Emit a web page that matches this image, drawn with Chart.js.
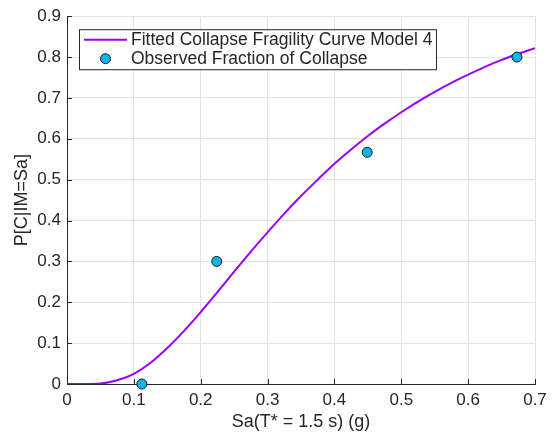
<!DOCTYPE html>
<html>
<head>
<meta charset="utf-8">
<script src="https://cdn.jsdelivr.net/npm/chart.js@4/dist/chart.umd.min.js"></script>
<style>
  html, body { margin: 0; padding: 0; background: #ffffff; }
  #wrap { width: 556px; height: 439px; position: relative; }
</style>
</head>
<body>
<div id="wrap"><canvas id="c" width="556" height="439"></canvas></div>
<script>
// Fitted collapse fragility curve, sampled along the intensity axis
const curveSa = [0, 0.025, 0.05, 0.075, 0.1, 0.125, 0.15, 0.175, 0.2, 0.225, 0.25, 0.275,
  0.3, 0.325, 0.35, 0.375, 0.4, 0.425, 0.45, 0.475, 0.5, 0.525, 0.55, 0.575, 0.6, 0.625,
  0.65, 0.675, 0.7];
const curveP = [0, 0, 0.001, 0.009, 0.025, 0.052, 0.088, 0.130, 0.176, 0.225, 0.275, 0.324,
  0.371, 0.417, 0.460, 0.500, 0.539, 0.574, 0.607, 0.637, 0.665, 0.691, 0.715, 0.737, 0.757,
  0.776, 0.793, 0.808, 0.822];

// Observed fraction of collapse at each analysed intensity level
const obsSa = [0.112, 0.224, 0.449, 0.673];
const obsP = [0, 0.3, 0.567, 0.8];

// Axis ticks
const xTicks = [0, 0.1, 0.2, 0.3, 0.4, 0.5, 0.6, 0.7];
const yTicks = [0, 0.1, 0.2, 0.3, 0.4, 0.5, 0.6, 0.7, 0.8, 0.9];

const seriesNames = ['Fitted Collapse Fragility Curve Model 4', 'Observed Fraction of Collapse'];
const xTitle = 'Sa(T* = 1.5 s) (g)';
const yTitle = 'P[C|IM=Sa]';

const TEXT = '#262626';
const LINE = '#9a00ff';
const MARK = '#10b2ea';
const FONT = 'Arial, "Liberation Sans", Helvetica, sans-serif';

const curvePts = curveSa.map((x, i) => ({ x: x, y: curveP[i] }));
const obsPts = obsSa.map((x, i) => ({ x: x, y: obsP[i] }));

// Inward tick marks on the left and bottom axes
const innerTicks = {
  id: 'innerTicks',
  afterDatasetsDraw(chart) {
    const { ctx, chartArea: a, scales: { x, y } } = chart;
    ctx.save();
    ctx.strokeStyle = TEXT;
    ctx.lineWidth = 1;
    ctx.beginPath();
    xTicks.forEach(v => {
      const px = Math.round(x.getPixelForValue(v)) + 0.5;
      ctx.moveTo(px, a.bottom);
      ctx.lineTo(px, a.bottom - 5);
    });
    yTicks.forEach(v => {
      const py = Math.round(y.getPixelForValue(v)) + 0.5;
      ctx.moveTo(a.left, py);
      ctx.lineTo(a.left + 5, py);
    });
    ctx.stroke();
    ctx.restore();
  }
};

// Boxed legend in the upper-left of the plot area
const boxLegend = {
  id: 'boxLegend',
  afterDraw(chart) {
    const { ctx, chartArea: a } = chart;
    const L = a.left + 12, T = a.top + 13, W = 357, H = 40;
    ctx.save();
    ctx.fillStyle = '#ffffff';
    ctx.fillRect(L, T, W, H);
    ctx.strokeStyle = TEXT;
    ctx.lineWidth = 1;
    ctx.strokeRect(L + 0.5, T + 0.5, W, H);
    ctx.strokeStyle = LINE;
    ctx.lineWidth = 2;
    ctx.beginPath();
    ctx.moveTo(L + 5, T + 10.5);
    ctx.lineTo(L + 48, T + 10.5);
    ctx.stroke();
    ctx.beginPath();
    ctx.arc(L + 26.5, T + 29.5, 5, 0, Math.PI * 2);
    ctx.fillStyle = MARK;
    ctx.fill();
    ctx.lineWidth = 1;
    ctx.strokeStyle = '#1a1a1a';
    ctx.stroke();
    ctx.fillStyle = TEXT;
    ctx.font = '17.5px ' + FONT;
    ctx.textBaseline = 'middle';
    ctx.textAlign = 'left';
    ctx.fillText(seriesNames[0], L + 52, T + 11);
    ctx.fillText(seriesNames[1], L + 52, T + 29.5);
    ctx.restore();
  }
};

new Chart(document.getElementById('c'), {
  type: 'scatter',
  data: {
    datasets: [
      {
        label: seriesNames[0],
        data: curvePts,
        showLine: true,
        borderColor: LINE,
        borderWidth: 2,
        pointRadius: 0,
        cubicInterpolationMode: 'monotone',
        fill: false,
        order: 2
      },
      {
        label: seriesNames[1],
        data: obsPts,
        showLine: false,
        pointRadius: 5,
        pointBackgroundColor: MARK,
        pointBorderColor: '#1a1a1a',
        pointBorderWidth: 1,
        clip: false,
        order: 1
      }
    ]
  },
  options: {
    responsive: false,
    animation: false,
    devicePixelRatio: 1,
    layout: { padding: { left: 0, top: 15, right: 21, bottom: 0 } },
    plugins: { legend: { display: false }, tooltip: { enabled: false } },
    scales: {
      x: {
        type: 'linear',
        min: 0, max: 0.7,
        afterBuildTicks: s => { s.ticks = xTicks.map(v => ({ value: v })); },
        afterFit: s => { s.height = 55; },
        ticks: {
          color: TEXT, font: { family: FONT, size: 17 }, padding: 6,
          maxRotation: 0,
          callback: v => String(v)
        },
        grid: { color: '#e3e3e3', lineWidth: 1, drawTicks: false },
        border: { display: true, color: TEXT, width: 1 },
        title: {
          display: true, text: xTitle, color: TEXT,
          font: { family: FONT, size: 18 }, padding: { top: 0, bottom: 6 }
        }
      },
      y: {
        type: 'linear',
        min: 0, max: 0.9,
        afterBuildTicks: s => { s.ticks = yTicks.map(v => ({ value: v })); },
        afterFit: s => { s.width = 67; },
        ticks: {
          color: TEXT, font: { family: FONT, size: 17 }, padding: 6,
          callback: v => String(v)
        },
        grid: { color: '#e3e3e3', lineWidth: 1, drawTicks: false },
        border: { display: true, color: TEXT, width: 1 },
        title: {
          display: true, text: yTitle, color: TEXT,
          font: { family: FONT, size: 18 }, padding: { top: 11, bottom: 0 }
        }
      }
    }
  },
  plugins: [innerTicks, boxLegend]
});
</script>
</body>
</html>
